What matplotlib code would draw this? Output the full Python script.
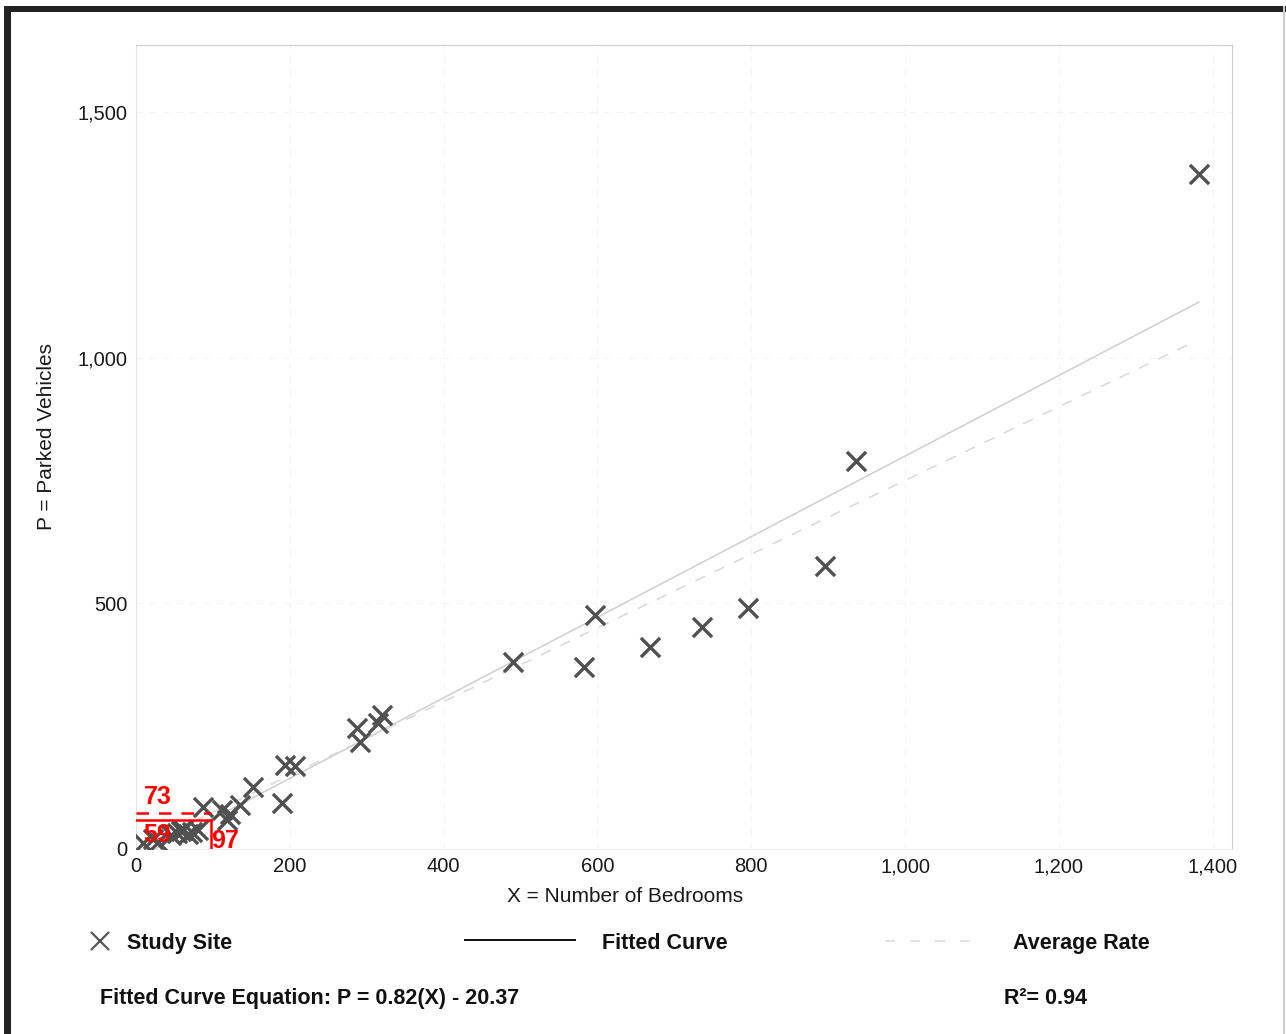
import matplotlib.pyplot as plt
from matplotlib.patches import Rectangle
from matplotlib.lines import Line2D
from matplotlib.ticker import FuncFormatter

plt.rcParams['font.family'] = ['Liberation Sans', 'DejaVu Sans']

# study sites
bedrooms = [9, 22, 29, 45, 53, 58, 61, 67, 73, 81, 87, 112, 118, 122, 135, 152,
            190, 194, 207, 287, 291, 315, 320, 490, 582, 597, 668, 736, 796, 896, 936, 1382]
parked = [12, 20, 14, 28, 33, 36, 39, 30, 35, 39, 85, 79, 59, 72, 90, 126,
          94, 171, 169, 246, 218, 256, 273, 380, 370, 476, 411, 452, 490, 576, 789, 1373]

fit_slope = 0.82
fit_intercept = -20.37
avg_rate = 0.75
r_squared = 0.94

# the site being estimated (red guide lines)
query_x = 97
query_fit = 59
query_avg = 73

x_ticks = [0, 200, 400, 600, 800, 1000, 1200, 1400]
y_ticks = [0, 500, 1000, 1500]

W, H = 1286, 1034
fig = plt.figure(figsize=(W / 100, H / 100), dpi=100)
ax = fig.add_axes([136 / W, 1 - 849 / H, (1232 - 136) / W, (849 - 45) / H])

ax.set_xlim(0, 1425)
ax.set_ylim(0, 1636)
ax.set_xticks(x_ticks)
ax.set_yticks(y_ticks)
fmt = FuncFormatter(lambda v, p: f"{int(v):,}")
ax.xaxis.set_major_formatter(fmt)
ax.yaxis.set_major_formatter(fmt)
ax.tick_params(length=0, labelsize=14.5, colors='#1a1a1a', pad=6)
ax.grid(True, color='#f3f3f3', linestyle=(0, (6, 6)), linewidth=0.8)
ax.set_axisbelow(True)
for s in ['top', 'right']:
    ax.spines[s].set_color('#cccccc')
ax.spines['left'].set_color('#e4e4e4')
ax.spines['bottom'].set_color('#f0f0f0')

# fitted curve and average rate lines
xmin, xmax = min(bedrooms), max(bedrooms)
ax.plot([xmin, xmax], [fit_slope * xmin + fit_intercept, fit_slope * xmax + fit_intercept],
        color='#cfcfcf', lw=1.1, zorder=2)
ax.plot([0, xmax * 0.995], [0, avg_rate * xmax * 0.995], color='#d8d8d8', lw=1.1,
        linestyle=(0, (7, 7)), zorder=2)

ax.scatter(bedrooms, parked, marker='x', s=190, linewidths=2.4, color='#505050', zorder=3)

# red guide lines for the estimated site
ax.plot([0, query_x], [query_fit, query_fit], color='red', lw=1.8, zorder=4)
ax.plot([query_x, query_x], [0, query_fit], color='red', lw=1.8, zorder=4)
ax.plot([0, query_x], [query_avg, query_avg], color='red', lw=1.8,
        linestyle=(0, (5, 4)), zorder=4)
ax.text(10, query_avg + 8, str(query_avg), color='red', fontsize=18, fontweight='bold',
        ha='left', va='bottom', zorder=5)
ax.text(10, query_fit - 6, str(query_fit), color='red', fontsize=18, fontweight='bold',
        ha='left', va='top', zorder=5)
ax.text(query_x + 1, 17, str(query_x), color='red', fontsize=18, fontweight='bold',
        ha='left', va='center', zorder=5, clip_on=False)

# axis titles
fig.text(625 / W, 1 - 896 / H, 'X = Number of Bedrooms', ha='center', va='center',
         fontsize=15, color='#1a1a1a')
fig.text(47 / W, 1 - 436 / H, 'P = Parked Vehicles', ha='center', va='center',
         rotation=90, fontsize=15, color='#1a1a1a')

# legend row
def fy(py):
    return 1 - py / H

fig.add_artist(Line2D([100 / W], [fy(941)], marker='x', markersize=13, mew=1.6,
                      color='#555555', linestyle='none'))
fig.text(127 / W, fy(949), 'Study Site', fontsize=15.5, fontweight='bold', va='baseline', color='#111111')
fig.add_artist(Line2D([465 / W, 575 / W], [fy(940), fy(940)], color='#111111', lw=1.4))
fig.text(602 / W, fy(949), 'Fitted Curve', fontsize=15.5, fontweight='bold', va='baseline', color='#111111')
fig.add_artist(Line2D([885 / W, 980 / W], [fy(941), fy(941)], color='#dddddd', lw=1.2,
                      linestyle=(0, (6, 9))))
fig.text(1013 / W, fy(949), 'Average Rate', fontsize=15.5, fontweight='bold', va='baseline', color='#111111')

fig.text(100 / W, fy(1004), f'Fitted Curve Equation: P = {fit_slope:.2f}(X) - {abs(fit_intercept):.2f}',
         fontsize=15.5, fontweight='bold', va='baseline', color='#111111')
fig.text(1004 / W, fy(1004), f'R\u00b2= {r_squared:.2f}', fontsize=15.5, fontweight='bold',
         va='baseline', color='#111111')

# dark frame on the left and top, thin line on the right
fig.add_artist(Rectangle((4 / W, 0), 7 / W, 1 - 6 / H, transform=fig.transFigure,
                         color='#222222', lw=0))
fig.add_artist(Rectangle((4 / W, 1 - 12 / H), 1 - 4 / W, 6 / H, transform=fig.transFigure,
                         color='#222222', lw=0))
fig.add_artist(Rectangle((1283 / W, 0), 2 / W, 1 - 6 / H, transform=fig.transFigure,
                         color='#cccccc', lw=0))

fig.savefig('out.png', dpi=100)
